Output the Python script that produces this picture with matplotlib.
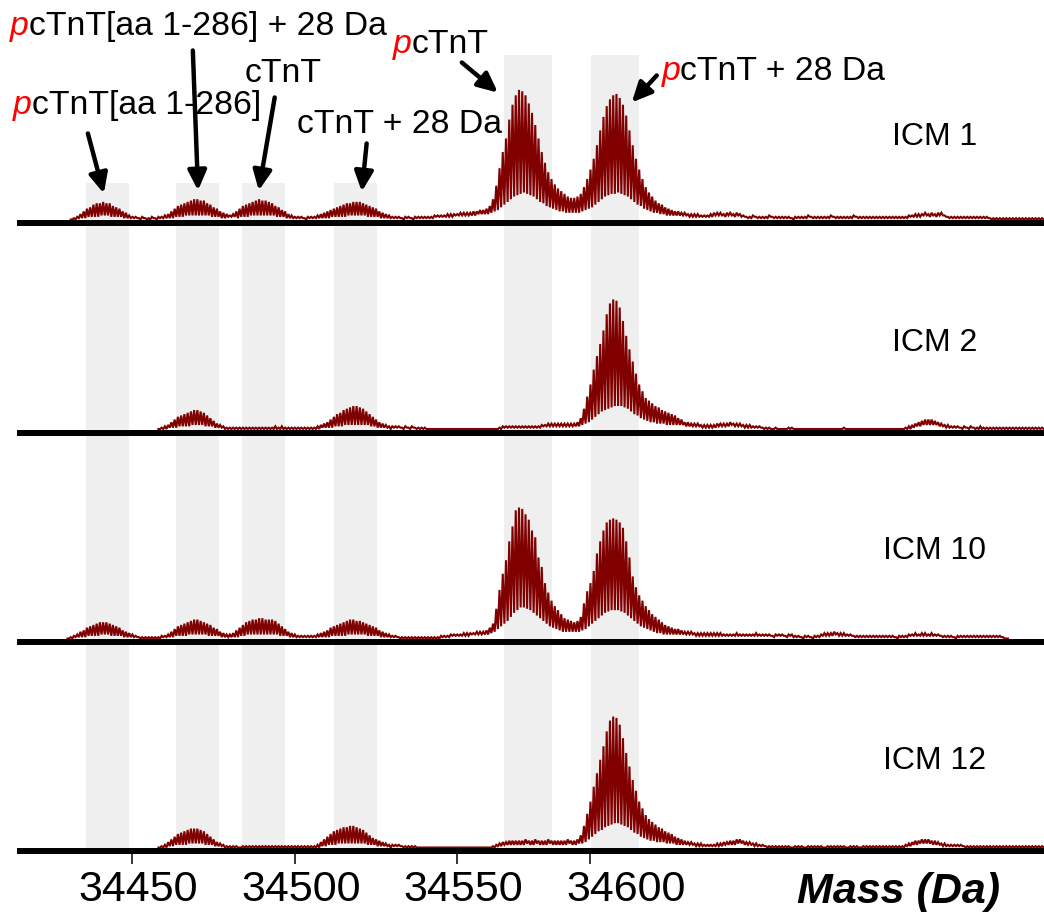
import numpy as np
import matplotlib
matplotlib.use("Agg")
import matplotlib.pyplot as plt
from matplotlib.transforms import ScaledTranslation

plt.rcParams['font.family'] = ['Liberation Sans', 'DejaVu Sans']

# ---------------------------------------------------------------- data
# isotope-resolved intensities, one value per Da starting at first_mass
# (tops = isotope maxima, valleys = minima between isotopes), % units
first_mass = 34430

icm1_tops = [
    0, 0, 1, 2, 4, 6, 8, 9, 11, 12,
    12, 13, 12, 12, 10, 9, 8, 6, 5, 3,
    2, 2, 1, 2, 1, 1, 2, 1, 2, 2,
    3, 4, 6, 8, 10, 11, 12, 13, 14, 15,
    15, 14, 14, 12, 11, 9, 8, 6, 5, 4,
    3, 4, 6, 8, 10, 11, 12, 13, 14, 15,
    14, 14, 13, 12, 10, 9, 7, 6, 4, 3,
    2, 2, 2, 1, 2, 2, 2, 3, 4, 5,
    6, 7, 8, 9, 10, 11, 12, 12, 13, 13,
    13, 12, 11, 10, 9, 8, 6, 5, 4, 3,
    2, 2, 2, 1, 2, 2, 1, 2, 2, 2,
    2, 2, 2, 3, 3, 3, 3, 4, 4, 4,
    4, 5, 5, 5, 5, 6, 6, 7, 7, 8,
    10, 15, 25, 38, 50, 60, 74, 85, 92, 96,
    95, 92, 86, 79, 70, 60, 50, 42, 35, 30,
    26, 23, 21, 19, 17, 16, 16, 17, 19, 24,
    30, 37, 45, 55, 66, 76, 84, 89, 92, 93,
    90, 85, 77, 66, 55, 45, 37, 30, 24, 20,
    17, 14, 12, 11, 9, 8, 7, 6, 6, 5,
    5, 4, 4, 4, 4, 3, 3, 3, 4, 5,
    5, 5, 4, 5, 5, 4, 5, 4, 3, 2,
    2, 3, 2, 2, 2, 2, 3, 2, 2, 2,
    2, 2, 2, 1, 2, 2, 2, 2, 3, 2,
    2, 2, 2, 2, 2, 3, 2, 2, 2, 2,
    2, 2, 3, 2, 2, 2, 2, 2, 2, 2,
    2, 2, 2, 2, 2, 2, 2, 2, 2, 3,
    3, 4, 4, 4, 5, 4, 5, 4, 5, 5,
    3, 2, 2, 2, 2, 2, 2, 2, 2, 2,
    2, 2, 2, 2, 1, 1, 1, 1, 1, 1,
    1, 1, 1, 1, 1, 1, 1, 1, 1, 1,
    1]
icm1_valleys = [
    0, 0, 0, 1, 1, 1, 2, 2, 2, 2,
    3, 3, 3, 2, 2, 2, 2, 1, 1, 1,
    1, 1, 0, 1, 0, 0, 1, 0, 1, 1,
    1, 1, 1, 2, 2, 2, 3, 3, 3, 3,
    3, 3, 3, 3, 2, 2, 2, 1, 1, 2,
    2, 2, 1, 2, 2, 2, 3, 3, 3, 3,
    3, 3, 3, 3, 2, 2, 2, 1, 1, 1,
    1, 1, 1, 0, 1, 1, 1, 1, 1, 1,
    1, 2, 2, 2, 2, 2, 3, 3, 3, 3,
    3, 3, 2, 2, 2, 2, 1, 1, 1, 1,
    1, 1, 1, 0, 1, 1, 0, 1, 1, 1,
    1, 1, 1, 2, 2, 2, 2, 2, 2, 3,
    3, 3, 3, 3, 3, 3, 4, 4, 4, 4,
    5, 6, 7, 9, 11, 13, 15, 17, 18, 19,
    20, 19, 18, 17, 15, 13, 12, 10, 9, 8,
    7, 6, 6, 5, 5, 5, 5, 5, 6, 7,
    8, 9, 11, 13, 15, 17, 18, 19, 19, 20,
    19, 18, 17, 15, 13, 11, 10, 8, 7, 6,
    5, 5, 4, 4, 3, 3, 3, 3, 3, 3,
    3, 2, 2, 2, 2, 2, 2, 2, 2, 3,
    3, 3, 2, 3, 3, 2, 3, 2, 2, 1,
    1, 2, 1, 1, 1, 1, 2, 1, 1, 1,
    1, 1, 1, 0, 1, 1, 1, 1, 2, 1,
    1, 1, 1, 1, 1, 2, 1, 1, 1, 1,
    1, 1, 2, 1, 1, 1, 1, 1, 1, 1,
    1, 1, 1, 1, 1, 1, 1, 1, 1, 2,
    2, 2, 2, 3, 3, 2, 3, 2, 3, 3,
    2, 1, 1, 1, 1, 1, 1, 1, 1, 1,
    1, 1, 1, 1, 0, 0, 0, 0, 0, 0,
    0, 0, 0, 0, 0, 0, 0, 0, 0, 0,
    0]

icm2_tops = [
    0, 0, 0, 0, 0, 0, 0, 0, 0, 0,
    0, 0, 0, 0, 0, 0, 0, 0, 0, 0,
    0, 0, 0, 0, 0, 0, 0, 0, 0, 1,
    2, 3, 5, 7, 9, 10, 11, 12, 13, 14,
    14, 13, 12, 10, 8, 6, 4, 3, 2, 1,
    1, 1, 1, 1, 1, 1, 1, 1, 1, 1,
    1, 1, 1, 1, 2, 1, 2, 1, 1, 1,
    1, 1, 1, 1, 1, 1, 1, 2, 3, 4,
    5, 7, 9, 11, 12, 14, 15, 16, 17, 17,
    16, 15, 13, 11, 9, 7, 5, 4, 3, 2,
    2, 2, 2, 1, 2, 1, 2, 1, 1, 1,
    1, 0, 0, 0, 0, 0, 0, 0, 0, 0,
    0, 0, 0, 0, 0, 0, 0, 0, 0, 0,
    0, 0, 0, 1, 2, 2, 2, 2, 2, 2,
    2, 2, 2, 2, 2, 2, 3, 3, 4, 4,
    4, 4, 4, 4, 4, 4, 4, 5, 8, 15,
    24, 33, 44, 54, 63, 73, 85, 93, 96, 95,
    90, 80, 69, 59, 50, 41, 33, 28, 23, 21,
    19, 17, 16, 14, 13, 12, 11, 10, 8, 7,
    5, 5, 4, 4, 4, 3, 3, 3, 3, 3,
    4, 4, 4, 4, 5, 4, 4, 4, 3, 3,
    3, 2, 2, 2, 1, 1, 1, 0, 1, 0,
    0, 0, 1, 1, 0, 0, 0, 0, 0, 0,
    0, 0, 0, 0, 0, 0, 0, 0, 0, 1,
    0, 0, 0, 0, 0, 0, 0, 0, 0, 0,
    0, 0, 0, 0, 0, 0, 0, 0, 1, 2,
    3, 4, 5, 6, 7, 7, 7, 6, 5, 4,
    3, 3, 2, 2, 2, 1, 2, 1, 2, 1,
    1, 2, 1, 1, 1, 1, 1, 1, 1, 1,
    1, 1, 1, 1, 1, 1, 1, 1, 1, 1,
    1]
icm2_valleys = [
    0, 0, 0, 0, 0, 0, 0, 0, 0, 0,
    0, 0, 0, 0, 0, 0, 0, 0, 0, 0,
    0, 0, 0, 0, 0, 0, 0, 0, 0, 0,
    0, 1, 1, 1, 2, 2, 2, 2, 3, 3,
    3, 3, 2, 2, 2, 1, 1, 1, 0, 0,
    0, 0, 0, 0, 0, 0, 0, 0, 0, 0,
    0, 0, 0, 0, 0, 0, 0, 0, 0, 0,
    0, 0, 0, 0, 0, 0, 0, 0, 1, 1,
    1, 1, 2, 2, 2, 3, 3, 3, 3, 3,
    3, 3, 3, 2, 2, 1, 1, 1, 1, 0,
    1, 1, 1, 0, 1, 0, 1, 0, 0, 0,
    0, 0, 0, 0, 0, 0, 0, 0, 0, 0,
    0, 0, 0, 0, 0, 0, 0, 0, 0, 0,
    0, 0, 0, 0, 1, 1, 1, 1, 1, 1,
    1, 1, 1, 1, 1, 1, 2, 2, 2, 2,
    2, 2, 2, 2, 2, 2, 2, 2, 3, 4,
    5, 7, 9, 11, 13, 14, 15, 16, 17, 17,
    17, 16, 15, 13, 11, 10, 8, 7, 6, 5,
    5, 4, 4, 4, 3, 3, 3, 3, 3, 3,
    2, 2, 2, 2, 2, 1, 1, 1, 1, 1,
    2, 2, 2, 2, 3, 2, 2, 2, 1, 1,
    1, 1, 1, 1, 0, 0, 0, 0, 0, 0,
    0, 0, 0, 0, 0, 0, 0, 0, 0, 0,
    0, 0, 0, 0, 0, 0, 0, 0, 0, 0,
    0, 0, 0, 0, 0, 0, 0, 0, 0, 0,
    0, 0, 0, 0, 0, 0, 0, 0, 0, 0,
    1, 2, 2, 3, 3, 3, 3, 3, 2, 2,
    1, 1, 1, 1, 1, 0, 1, 0, 1, 0,
    0, 0, 0, 0, 0, 0, 0, 0, 0, 0,
    0, 0, 0, 0, 0, 0, 0, 0, 0, 0,
    0]

icm10_tops = [
    0, 1, 2, 3, 5, 6, 8, 9, 10, 11,
    12, 12, 12, 11, 10, 9, 8, 6, 5, 4,
    3, 2, 1, 1, 1, 1, 1, 1, 1, 2,
    2, 3, 5, 7, 9, 10, 11, 12, 13, 14,
    14, 13, 12, 11, 10, 8, 7, 5, 4, 3,
    3, 4, 6, 8, 10, 12, 13, 14, 14, 15,
    15, 14, 14, 14, 13, 11, 9, 7, 5, 4,
    3, 2, 2, 2, 2, 2, 2, 3, 4, 5,
    6, 8, 9, 10, 11, 12, 13, 14, 14, 13,
    13, 12, 11, 10, 9, 8, 6, 5, 4, 3,
    2, 2, 1, 1, 1, 1, 1, 1, 1, 1,
    1, 1, 1, 1, 1, 2, 2, 2, 3, 3,
    3, 3, 4, 4, 4, 4, 5, 5, 5, 6,
    8, 11, 22, 36, 48, 58, 72, 83, 95, 97,
    96, 92, 88, 80, 75, 60, 53, 41, 34, 28,
    24, 21, 18, 15, 14, 13, 12, 13, 16, 26,
    35, 41, 50, 63, 72, 80, 86, 88, 89, 88,
    86, 82, 72, 60, 46, 38, 32, 28, 24, 21,
    18, 16, 14, 12, 10, 9, 8, 7, 7, 6,
    5, 5, 5, 4, 4, 4, 4, 4, 4, 4,
    4, 4, 3, 3, 3, 3, 4, 3, 3, 3,
    3, 3, 4, 3, 3, 3, 3, 2, 3, 3,
    3, 2, 3, 3, 2, 2, 1, 2, 2, 1,
    2, 2, 3, 4, 4, 4, 5, 4, 4, 4,
    3, 3, 2, 2, 2, 2, 2, 2, 2, 2,
    2, 2, 2, 2, 2, 1, 2, 2, 2, 3,
    3, 4, 3, 4, 4, 3, 4, 3, 3, 2,
    2, 2, 2, 1, 2, 2, 2, 2, 2, 2,
    2, 2, 2, 2, 2, 2, 2, 2, 1, 0,
    0, 0, 0, 0, 0, 0, 0, 0, 0, 0,
    0]
icm10_valleys = [
    0, 0, 1, 1, 1, 1, 2, 2, 2, 2,
    3, 3, 3, 2, 2, 2, 2, 1, 1, 1,
    1, 1, 0, 0, 0, 0, 0, 0, 0, 1,
    1, 1, 1, 2, 2, 2, 2, 3, 3, 3,
    3, 3, 3, 2, 2, 2, 2, 1, 1, 1,
    1, 1, 1, 2, 2, 3, 3, 3, 3, 3,
    3, 3, 3, 3, 3, 2, 2, 2, 1, 1,
    1, 1, 1, 1, 1, 1, 1, 1, 1, 1,
    1, 2, 2, 2, 2, 2, 3, 3, 3, 3,
    3, 3, 2, 2, 2, 2, 1, 1, 1, 1,
    1, 1, 0, 0, 0, 0, 0, 0, 0, 0,
    0, 0, 0, 0, 0, 1, 1, 1, 2, 2,
    2, 2, 2, 2, 3, 3, 3, 3, 3, 3,
    4, 5, 7, 9, 11, 13, 16, 19, 21, 23,
    23, 22, 21, 19, 17, 15, 13, 11, 9, 8,
    7, 6, 5, 5, 5, 5, 5, 5, 6, 7,
    9, 11, 13, 15, 17, 19, 20, 21, 21, 21,
    20, 19, 17, 15, 13, 11, 9, 8, 7, 6,
    5, 4, 4, 3, 3, 3, 3, 3, 3, 3,
    3, 3, 3, 2, 2, 2, 2, 2, 2, 2,
    2, 2, 2, 2, 2, 2, 2, 2, 2, 2,
    2, 2, 2, 2, 2, 2, 2, 1, 2, 2,
    2, 1, 2, 1, 1, 1, 0, 1, 1, 0,
    1, 1, 2, 2, 2, 2, 3, 2, 2, 2,
    2, 2, 1, 1, 1, 1, 1, 1, 1, 1,
    1, 1, 1, 1, 1, 0, 1, 1, 1, 2,
    2, 2, 2, 2, 2, 2, 2, 2, 2, 1,
    1, 1, 1, 0, 1, 1, 1, 1, 1, 1,
    1, 1, 1, 1, 1, 1, 1, 1, 0, 0,
    0, 0, 0, 0, 0, 0, 0, 0, 0, 0,
    0]

icm12_tops = [
    0, 0, 0, 0, 0, 0, 0, 0, 0, 0,
    0, 0, 0, 0, 0, 0, 0, 0, 0, 0,
    0, 0, 0, 0, 0, 0, 0, 0, 0, 1,
    2, 4, 6, 8, 10, 11, 12, 13, 14, 14,
    14, 13, 12, 10, 8, 6, 4, 3, 2, 1,
    1, 1, 1, 0, 1, 1, 1, 1, 1, 1,
    1, 1, 1, 1, 1, 1, 1, 1, 1, 1,
    1, 1, 1, 1, 1, 1, 1, 2, 4, 6,
    8, 10, 12, 13, 14, 15, 15, 16, 16, 15,
    14, 13, 11, 9, 7, 6, 5, 4, 3, 2,
    2, 2, 2, 1, 1, 1, 1, 1, 0, 0,
    0, 0, 0, 0, 0, 0, 0, 0, 0, 0,
    0, 0, 0, 0, 0, 0, 0, 0, 0, 0,
    0, 1, 2, 3, 4, 4, 5, 5, 5, 5,
    5, 6, 5, 5, 6, 5, 5, 5, 6, 5,
    5, 5, 5, 5, 6, 5, 5, 6, 9, 16,
    25, 34, 45, 55, 65, 75, 86, 94, 97, 96,
    91, 81, 70, 60, 50, 42, 34, 29, 24, 21,
    19, 17, 15, 14, 12, 11, 10, 8, 7, 6,
    5, 4, 4, 3, 3, 3, 2, 2, 2, 2,
    3, 3, 4, 4, 5, 5, 6, 6, 5, 4,
    4, 3, 3, 2, 2, 1, 1, 1, 1, 1,
    1, 1, 1, 0, 1, 1, 1, 0, 1, 1,
    1, 1, 1, 0, 1, 1, 1, 1, 1, 1,
    0, 1, 1, 1, 0, 1, 1, 1, 1, 1,
    1, 1, 1, 1, 1, 1, 1, 1, 2, 3,
    4, 5, 5, 6, 6, 6, 5, 5, 4, 3,
    3, 2, 2, 2, 2, 2, 1, 1, 1, 1,
    1, 1, 1, 1, 1, 1, 1, 1, 1, 1,
    1, 1, 1, 1, 1, 1, 1, 1, 1, 1,
    1]
icm12_valleys = [
    0, 0, 0, 0, 0, 0, 0, 0, 0, 0,
    0, 0, 0, 0, 0, 0, 0, 0, 0, 0,
    0, 0, 0, 0, 0, 0, 0, 0, 0, 0,
    0, 1, 1, 2, 2, 2, 2, 3, 3, 3,
    3, 3, 2, 2, 2, 1, 1, 1, 0, 0,
    0, 0, 0, 0, 0, 0, 0, 0, 0, 0,
    0, 0, 0, 0, 0, 0, 0, 0, 0, 0,
    0, 0, 0, 0, 0, 0, 0, 0, 1, 1,
    2, 2, 2, 3, 3, 3, 3, 3, 3, 3,
    3, 3, 2, 2, 2, 1, 1, 1, 1, 0,
    1, 1, 1, 0, 0, 0, 0, 0, 0, 0,
    0, 0, 0, 0, 0, 0, 0, 0, 0, 0,
    0, 0, 0, 0, 0, 0, 0, 0, 0, 0,
    0, 0, 1, 1, 2, 2, 2, 2, 2, 2,
    2, 3, 2, 2, 3, 2, 2, 2, 3, 2,
    2, 2, 2, 2, 3, 2, 2, 3, 3, 4,
    6, 8, 10, 12, 13, 15, 16, 17, 18, 18,
    17, 16, 15, 13, 11, 10, 8, 7, 6, 5,
    5, 4, 4, 4, 3, 3, 3, 2, 2, 2,
    2, 2, 2, 1, 1, 1, 1, 1, 1, 1,
    1, 1, 2, 2, 2, 2, 3, 3, 2, 2,
    2, 1, 1, 1, 1, 0, 0, 0, 0, 0,
    0, 0, 0, 0, 0, 0, 0, 0, 0, 0,
    0, 0, 0, 0, 0, 0, 0, 0, 0, 0,
    0, 0, 0, 0, 0, 0, 0, 0, 0, 0,
    0, 0, 0, 0, 0, 0, 0, 0, 1, 1,
    2, 2, 3, 3, 3, 3, 2, 2, 2, 1,
    1, 1, 1, 1, 1, 1, 0, 0, 0, 0,
    0, 0, 0, 0, 0, 0, 0, 0, 0, 0,
    0, 0, 0, 0, 0, 0, 0, 0, 0, 0,
    0]

panel_names = ['ICM 1', 'ICM 2', 'ICM 10', 'ICM 12']
panel_tops = [icm1_tops, icm2_tops, icm10_tops, icm12_tops]
panel_valleys = [icm1_valleys, icm2_valleys, icm10_valleys, icm12_valleys]

# highlighted mass windows (Da)
band_ranges = [(34435.7, 34448.9), (34463.4, 34476.6), (34483.7, 34496.9),
               (34512.0, 34525.2), (34564.3, 34579.1), (34591.1, 34605.8)]
band_tops_icm1 = [26.7, 26.7, 26.7, 26.7, 121.5, 121.5]

tick_values = [34450, 34500, 34550, 34600]
tick_labels = ['34450', '34500', '34550', '34600']
tick_marks = [34450, 34500, 34550, 34591]

# annotations: (red italic prefix, rest), text anchor, arrow tail, arrow tip
annot_texts = [('p', 'cTnT[aa 1-286] + 28 Da'), ('p', 'cTnT'), ('', 'cTnT'),
               ('p', 'cTnT[aa 1-286]'), ('', 'cTnT + 28 Da'), ('p', 'cTnT + 28 Da')]
annot_xy = [(34412.3, 136.3), (34530.2, 123.0), (34484.6, 101.5),
            (34413.2, 77.8), (34500.6, 64.4), (34612.9, 103.7)]
arrow_tails = [(34468.6, 125.2), (34551.4, 116.3), (34493.8, 90.4),
               (34436.3, 63.7), (34522.1, 56.3), (34611.4, 106.7)]
arrow_tips = [(34470.2, 21.5), (34562.5, 94.0), (34488.9, 21.5),
              (34441.2, 19.3), (34520.6, 20.7), (34603.7, 86.7)]

label_xy = [(34696.9, 55), (34696.9, 58), (34696.9, 59), (34696.9, 58)]

# ---------------------------------------------------------------- figure
W, H = 1044, 917
fig = plt.figure(figsize=(W / 100, H / 100), dpi=100)
fig.patch.set_facecolor('white')

line_y = [223, 432.5, 642, 851]        # pixel rows of the baselines
panel_h = 209.3
zero_off = 3.5                          # trace zero above baseline (px)
unit_px = 1.35                          # px per intensity unit
ylo = -zero_off / unit_px
yhi = ylo + panel_h / unit_px
xlim = (34415.4, 34730.6)

TRACE = '#800000'
BAND = '#efefef'

axes = []
for k in range(4):
    ax = fig.add_axes([20 / W, (H - line_y[k]) / H, 1024 / W, panel_h / H])
    ax.set_zorder(10 - k)
    ax.patch.set_visible(False)
    ax.set_xlim(*xlim)
    ax.set_ylim(ylo, yhi)
    for s in ('top', 'left', 'right'):
        ax.spines[s].set_visible(False)
    ax.spines['bottom'].set_linewidth(4.3)
    ax.spines['bottom'].set_color('black')
    ax.set_yticks([])
    ax.set_xticks([])

    for (b0, b1), bt in zip(band_ranges, band_tops_icm1):
        top = (bt - ylo) / (yhi - ylo) if k == 0 else 1.0
        ax.axvspan(b0, b1, ymin=0, ymax=top, color=BAND, lw=0, zorder=0)

    tops = np.asarray(panel_tops[k], dtype=float)
    vals = np.asarray(panel_valleys[k], dtype=float)
    n = min(len(tops), len(vals))
    tops, vals = tops[:n], vals[:n]
    # draw only the recorded span (skip empty leading / trailing stretch)
    nz = np.nonzero(tops > 0)[0]
    i0 = max(nz[0] - 1, 0)
    i1 = min(nz[-1] + 1, n - 1)
    m = first_mass + np.arange(n)
    sl = slice(i0, i1 + 1)
    cnt = i1 + 1 - i0
    xs = np.empty(2 * cnt)
    ys = np.empty(2 * cnt)
    xs[0::2] = m[sl]
    xs[1::2] = m[sl] + 0.5
    ys[0::2] = tops[sl]
    ys[1::2] = vals[sl]
    ax.plot(xs, ys, color=TRACE, lw=1.5, zorder=2, solid_joinstyle='miter')

    lx, ly = label_xy[k]
    ax.text(lx, ly, panel_names[k], fontsize=23, ha='center', va='baseline')
    axes.append(ax)

# bottom axis ticks
ax4 = axes[3]
ax4.xaxis.remove_overlapping_locs = False
ax4.set_xticks(tick_values)
ax4.set_xticklabels(tick_labels, fontsize=31)
ax4.tick_params(axis='x', which='major', length=0, pad=13.5)
ax4.set_xticks(tick_marks, minor=True)
ax4.tick_params(axis='x', which='minor', length=9.4, width=1.1, color='black',
                direction='out')
shift = ScaledTranslation(6 / 100, 0, fig.dpi_scale_trans)
for lab in ax4.get_xticklabels():
    lab.set_transform(lab.get_transform() + shift)
ax4.text(34685.8, -41.1, 'Mass (Da)', fontsize=31, fontweight='bold',
         style='italic', ha='center', va='baseline', clip_on=False)

# annotations in the top panel
ax1 = axes[0]
FS = 24.3
for (pre, rest), (tx, ty), tail, tip in zip(annot_texts, annot_xy,
                                            arrow_tails, arrow_tips):
    if pre:
        t0 = ax1.text(tx, ty, pre, color='red', style='italic', fontsize=FS,
                      ha='left', va='baseline', clip_on=False)
        ax1.annotate(rest, xy=(1, 0), xycoords=t0, ha='left', va='bottom',
                     fontsize=FS, color='black', annotation_clip=False)
    else:
        ax1.text(tx, ty, rest, fontsize=FS, ha='left', va='baseline',
                 clip_on=False)
    ax1.annotate('', xy=tip, xytext=tail, xycoords='data', textcoords='data',
                 arrowprops=dict(arrowstyle='-|>,head_length=0.85,head_width=0.4',
                                 lw=3.2, color='black', mutation_scale=14,
                                 shrinkA=0, shrinkB=0),
                 annotation_clip=False)

fig.savefig('out.png', dpi=100)
